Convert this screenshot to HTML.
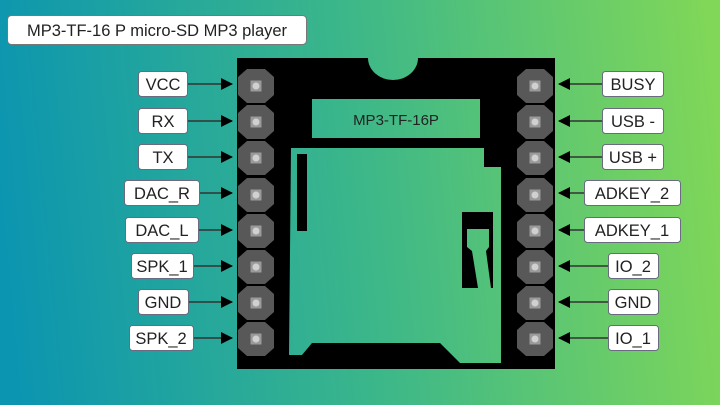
<!DOCTYPE html>
<html><head><meta charset="utf-8"><style>
html,body{margin:0;padding:0;width:720px;height:405px;overflow:hidden}
svg{display:block}
text{font-family:"Liberation Sans",sans-serif;fill:#222}
</style></head><body>
<svg width="720" height="405" viewBox="0 0 720 405" xmlns="http://www.w3.org/2000/svg">
<defs>
<linearGradient id="bg" gradientUnits="userSpaceOnUse" x1="0" y1="220" x2="720" y2="150">
<stop offset="0" stop-color="#0b95b0"/>
<stop offset="0.5" stop-color="#3cb78a"/>
<stop offset="1" stop-color="#80d758"/>
</linearGradient>
<marker id="ar" markerWidth="12" markerHeight="12" refX="11" refY="6" orient="auto" markerUnits="userSpaceOnUse">
<path d="M0,0 L12,6 L0,12 Z" fill="#000"/>
</marker>
<g id="pad">
<polygon points="-9,-17 9,-17 18,-9 18,9 9,17 -9,17 -18,9 -18,-9" fill="#585858"/>
<rect x="-5.5" y="-5.5" width="11" height="11" fill="#9a9a9a"/>
<circle r="3.5" fill="#d0d0d0"/>
</g>
</defs>
<rect width="720" height="405" fill="url(#bg)"/>
<rect x="7.5" y="15.5" width="299" height="29" rx="4" fill="#fff" stroke="#777"/>
<text x="157" y="36" font-size="16.5" text-anchor="middle">MP3-TF-16 P micro-SD MP3 player</text>
<rect x="237" y="58" width="318" height="311" fill="#000"/>
<path d="M368,58 A25,22 0 0 0 418,58 Z" fill="url(#bg)"/>
<rect x="312" y="99" width="168" height="39" fill="url(#bg)"/>
<text x="396" y="125" font-size="15" text-anchor="middle" fill="#222">MP3-TF-16P</text>
<polygon points="291,148 484,148 484,167 501,167 501,363 460,363 440,343 312,343 302,355 289,355" fill="url(#bg)"/>
<rect x="297" y="154" width="10" height="77" fill="#000"/>
<rect x="462" y="212" width="31" height="76" fill="#000"/>
<polygon points="467,229 489,229 489,247 486,251 491,288 478,288 472,251 467,247" fill="url(#bg)"/>
<g>
<use href="#pad" x="256" y="86"/><use href="#pad" x="256" y="122"/><use href="#pad" x="256" y="158"/><use href="#pad" x="256" y="195"/>
<use href="#pad" x="256" y="231"/><use href="#pad" x="256" y="267"/><use href="#pad" x="256" y="303"/><use href="#pad" x="256" y="339"/>
<use href="#pad" x="535" y="86"/><use href="#pad" x="535" y="122"/><use href="#pad" x="535" y="158"/><use href="#pad" x="535" y="195"/>
<use href="#pad" x="535" y="231"/><use href="#pad" x="535" y="267"/><use href="#pad" x="535" y="303"/><use href="#pad" x="535" y="339"/>
</g>
<g stroke="#333" stroke-width="1.5" marker-end="url(#ar)">
<line x1="187" y1="84" x2="232" y2="84"/>
<line x1="187" y1="121" x2="232" y2="121"/>
<line x1="187" y1="157" x2="232" y2="157"/>
<line x1="199" y1="193" x2="232" y2="193"/>
<line x1="198" y1="230" x2="232" y2="230"/>
<line x1="193" y1="266" x2="232" y2="266"/>
<line x1="188" y1="302" x2="232" y2="302"/>
<line x1="193" y1="338" x2="232" y2="338"/>
<line x1="602" y1="84" x2="559" y2="84"/>
<line x1="602" y1="121" x2="559" y2="121"/>
<line x1="602" y1="157" x2="559" y2="157"/>
<line x1="584" y1="193" x2="559" y2="193"/>
<line x1="584" y1="230" x2="559" y2="230"/>
<line x1="608" y1="266" x2="559" y2="266"/>
<line x1="608" y1="302" x2="559" y2="302"/>
<line x1="608" y1="338" x2="559" y2="338"/>
</g>
<g fill="#fff" stroke="#6a6a80" stroke-width="1">
<rect x="138.5" y="71.5" width="49" height="25" rx="3"/>
<rect x="138.5" y="108.5" width="49" height="25" rx="3"/>
<rect x="138.5" y="144.5" width="49" height="25" rx="3"/>
<rect x="124.5" y="180.5" width="75" height="25" rx="3"/>
<rect x="125.5" y="217.5" width="73" height="25" rx="3"/>
<rect x="131.5" y="253.5" width="62" height="25" rx="3"/>
<rect x="138.5" y="289.5" width="50" height="25" rx="3"/>
<rect x="129.5" y="325.5" width="64" height="25" rx="3"/>
<rect x="602.5" y="71.5" width="61" height="25" rx="3"/>
<rect x="602.5" y="108.5" width="61" height="25" rx="3"/>
<rect x="602.5" y="144.5" width="61" height="25" rx="3"/>
<rect x="584.5" y="180.5" width="96" height="25" rx="3"/>
<rect x="584.5" y="217.5" width="96" height="25" rx="3"/>
<rect x="608.5" y="253.5" width="50" height="25" rx="3"/>
<rect x="608.5" y="289.5" width="50" height="25" rx="3"/>
<rect x="608.5" y="325.5" width="50" height="25" rx="3"/>
</g>
<g font-size="16.5" text-anchor="middle">
<text x="163" y="90">VCC</text>
<text x="163" y="127">RX</text>
<text x="163" y="163">TX</text>
<text x="162" y="199">DAC_R</text>
<text x="162" y="236">DAC_L</text>
<text x="162" y="272">SPK_1</text>
<text x="163" y="308">GND</text>
<text x="161" y="344">SPK_2</text>
<text x="633" y="90">BUSY</text>
<text x="633" y="127">USB -</text>
<text x="633" y="163">USB +</text>
<text x="632" y="199">ADKEY_2</text>
<text x="632" y="236">ADKEY_1</text>
<text x="633" y="272">IO_2</text>
<text x="633" y="308">GND</text>
<text x="633" y="344">IO_1</text>
</g>
</svg>
</body></html>
